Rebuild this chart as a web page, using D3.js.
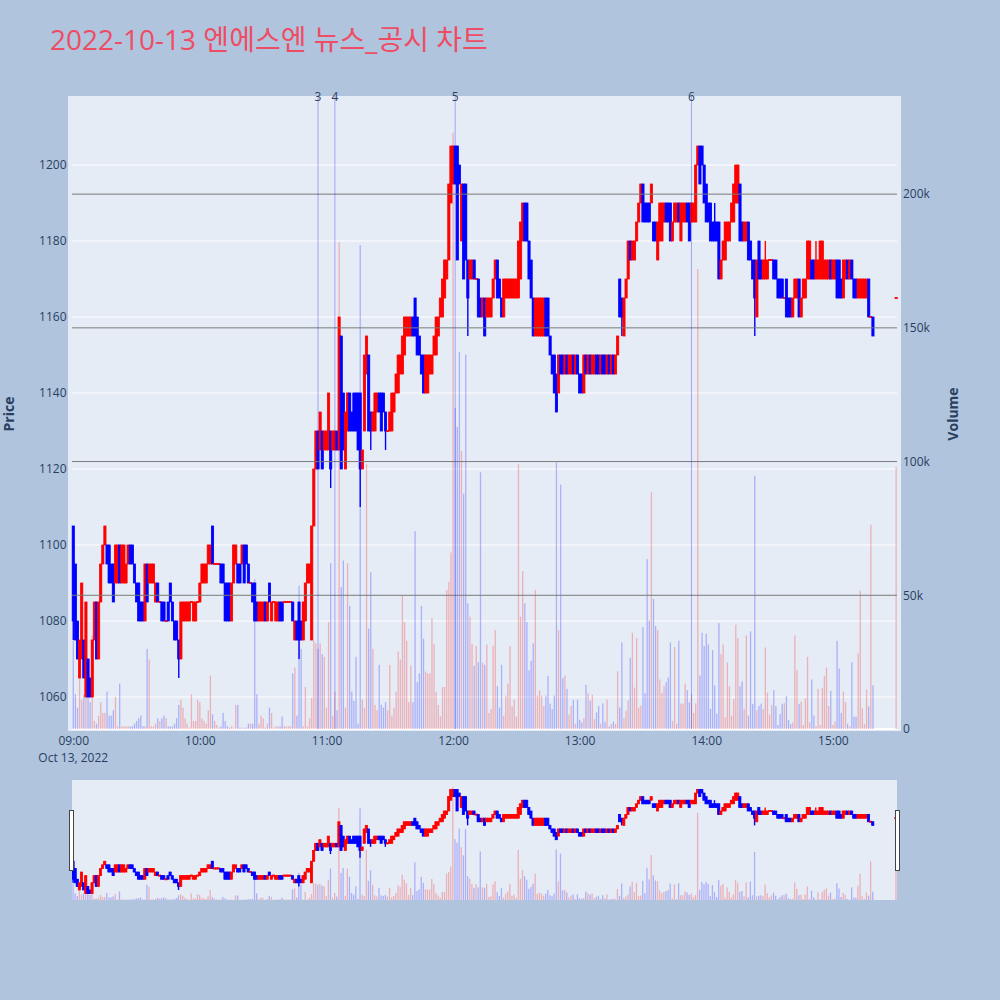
<!DOCTYPE html>
<html><head><meta charset="utf-8">
<script src="https://cdn.jsdelivr.net/npm/d3@7"></script>
<style>body{margin:0;background:#b0c4de;} svg{display:block}</style>
</head><body><svg id="c" width="1000" height="1000"></svg>
<script>
// ---- DATA (minute candles, 2022-10-13, 09:00 .. 15:19 plus 15:30 close) ----
const opens = [
1105,1095,1080,1065,1070,1075,1060,1070,1065,1060,
1075,1085,1070,1085,1095,1100,1100,1100,1095,1095,
1090,1090,1100,1090,1090,1090,1095,1100,1100,1095,
1090,1090,1085,1085,1080,1095,1090,1090,1090,1085,
1090,1085,1085,1085,1080,1085,1090,1085,1080,1080,
1075,1070,1080,1080,1080,1080,1085,1080,1080,1085,
1085,1090,1090,1090,1095,1095,1105,1095,1095,1095,
1095,1095,1090,1090,1090,1080,1090,1095,1095,1095,
1095,1100,1100,1095,1090,1090,1090,1085,1080,1080,
1080,1085,1080,1090,1080,1085,1080,1080,1085,1085,
1085,1085,1085,1085,1085,1075,1080,1085,1080,1075,
1080,1090,1090,1075,1105,1120,1130,1125,1130,1125,
1125,1125,1130,1125,1125,1130,1125,1155,1140,1120,
1130,1140,1135,1140,1140,1140,1140,1120,1130,1145,
1150,1135,1130,1130,1135,1140,1140,1140,1135,1130,
1130,1130,1135,1140,1140,1145,1145,1150,1155,1155,
1155,1160,1165,1160,1155,1150,1150,1140,1140,1145,
1145,1150,1150,1155,1160,1160,1165,1170,1175,1190,
1195,1205,1205,1200,1180,1195,1195,1175,1170,1170,
1175,1170,1170,1165,1160,1165,1160,1160,1160,1165,
1170,1175,1170,1165,1160,1165,1165,1165,1165,1165,
1165,1165,1170,1180,1190,1190,1180,1175,1165,1155,
1155,1155,1155,1155,1165,1165,1155,1150,1150,1145,
1140,1150,1150,1145,1150,1145,1145,1150,1145,1150,
1145,1145,1140,1150,1145,1150,1145,1145,1150,1150,
1145,1150,1150,1145,1150,1145,1150,1145,1150,1170,
1165,1155,1165,1170,1180,1175,1175,1180,1185,1190,
1195,1190,1190,1190,1190,1185,1185,1175,1180,1180,
1185,1190,1190,1190,1180,1185,1185,1190,1180,1185,
1185,1190,1190,1185,1185,1185,1200,1205,1205,1200,
1195,1190,1190,1185,1185,1185,1185,1170,1175,1175,
1180,1180,1185,1185,1190,1190,1195,1185,1180,1180,
1185,1180,1175,1175,1160,1180,1175,1170,1170,1170,
1175,1175,1175,1175,1170,1170,1170,1165,1170,1165,
1165,1160,1165,1165,1170,1160,1165,1165,1170,1170,
1175,1175,1170,1170,1170,1170,1170,1170,1170,1175,
1170,1170,1175,1175,1170,1165,1170,1175,1170,1175,
1170,1170,1165,1165,1165,1165,1165,1170,1160,1160,
1165];
const closes = [
1080,1075,1070,1075,1090,1065,1085,1060,1060,1075,
1085,1070,1085,1095,1100,1105,1095,1090,1090,1085,
1100,1100,1090,1100,1100,1095,1100,1095,1095,1090,
1085,1080,1080,1080,1095,1085,1095,1095,1095,1090,
1085,1085,1080,1080,1080,1080,1085,1080,1075,1075,
1070,1085,1085,1085,1085,1085,1085,1085,1085,1085,
1090,1095,1095,1095,1100,1100,1095,1095,1095,1095,
1090,1090,1080,1080,1080,1090,1100,1100,1090,1090,
1100,1090,1095,1090,1090,1085,1080,1080,1085,1085,
1085,1080,1085,1085,1085,1085,1085,1085,1080,1080,
1085,1085,1085,1085,1080,1080,1075,1075,1075,1085,
1090,1095,1095,1105,1120,1130,1120,1135,1120,1130,
1130,1140,1120,1130,1130,1125,1160,1120,1125,1135,
1140,1130,1130,1130,1130,1125,1120,1125,1150,1155,
1130,1130,1135,1140,1140,1135,1130,1135,1130,1130,
1135,1140,1140,1145,1150,1150,1155,1160,1160,1160,
1160,1155,1155,1150,1150,1145,1140,1150,1150,1150,
1150,1155,1160,1160,1165,1170,1175,1175,1195,1205,
1205,1195,1175,1195,1195,1170,1175,1165,1175,1175,
1170,1170,1160,1160,1165,1155,1165,1165,1165,1170,
1175,1165,1165,1160,1170,1170,1170,1170,1170,1170,
1170,1180,1185,1190,1180,1180,1170,1165,1155,1165,
1165,1165,1165,1165,1155,1155,1150,1145,1140,1135,
1150,1145,1145,1150,1145,1150,1150,1145,1150,1145,
1140,1140,1150,1145,1150,1145,1150,1150,1145,1145,
1150,1145,1145,1150,1145,1150,1145,1150,1155,1160,
1160,1165,1170,1180,1175,1180,1180,1185,1190,1195,
1185,1185,1185,1185,1195,1180,1180,1185,1190,1190,
1190,1185,1185,1180,1185,1190,1190,1185,1190,1190,
1190,1185,1180,1190,1190,1200,1205,1195,1200,1190,
1185,1185,1180,1180,1180,1180,1170,1175,1180,1185,
1185,1185,1190,1195,1200,1200,1180,1180,1185,1185,
1175,1175,1170,1165,1175,1170,1170,1175,1175,1175,
1175,1175,1170,1170,1165,1165,1165,1165,1160,1160,
1160,1165,1170,1170,1160,1165,1170,1170,1180,1180,
1170,1170,1175,1175,1180,1180,1175,1175,1175,1170,
1175,1175,1165,1165,1165,1175,1175,1170,1175,1170,
1165,1165,1170,1170,1170,1170,1170,1160,1160,1155,
1165];
// volume in thousands of shares
const volumesK = [
33,13,8,19,11,13,26,16,10,35,
3,2,5,10,6,6,14,5,5,7,
12,1,17,1,1,1,1,1,1,2,
3,4,5,1,1,30,26,1,1,2,
4,3,4,5,4,1,1,1,2,4,
9,11,8,4,2,0.5,13,3,3,11,
10,4,3,2,7,20,5.5,3,1.5,0.5,
1,6,3,1,0.5,1,0.5,9,9,0.5,
0.5,0.5,0.5,2,2,2,56,13,2,5,
4,0.5,2,8,6,0.5,1,1,1,4.7,
1,1,1,1,20.8,23,5,53.6,30,1,
15.7,1,4,11.6,33,32,30,32,28,27,
8,40,62,5,14,7,182,53,63,8,
62,46,14,10.5,27,2,181,11,8,99,
37.5,58.6,30,9,7,24,9,8,10,7,
24,5,8,14,29,26,50,40,33,10,
23.7,10,74,17.5,20.8,46,33.8,21.5,20.8,20.8,
41.5,31.7,13.9,9,4.7,15.7,15.7,52,55,66,
223,120,113,141,104,88,140,47,42,31.7,
23.7,31,25,96,24.8,24,31.6,6,7.5,31,
37,16,8,24,5,12.5,17,31,8.5,11,
4.6,99,42,59,47,40,22,25.5,32,52,
12.5,14.5,12.5,8.6,12.5,19.8,9.5,7.5,12.5,99.7,
37,91.4,19,20,15,5.4,8.6,11,2,11,
3.4,2.5,4,16.5,13.4,10.6,12.8,3.7,6.2,8.6,
2,9.6,2.7,11,0.9,1.9,2.7,1.9,21.6,8,
32.4,4,6.9,10.6,26.6,36,15.5,34,8,8.8,
38,13.4,63.5,40.6,88.5,48.6,38.5,37,18.5,13.5,
16,17.5,19.2,32.4,3,30.7,2,33,9.5,9.5,
17,14.6,10,13,6,9.6,172,20,36,31,
35.7,31.6,7.5,29.5,16.3,5.7,39.6,28,31.6,4.4,
24.8,16,5,11.2,39,34,16,17.8,7.5,35,
5,36.5,9.4,94.7,7,8.6,9.5,7.5,30.5,13.6,
5.4,9,14.5,8.6,1.5,5.6,9.4,9.7,12.3,3.4,
1.9,2.5,35,22,9.4,10.3,1.5,11.5,27,2.5,
18.5,5,1,15,1.5,15.4,19.8,23,8.6,14.3,
1.5,2.8,33,22.6,6,14,10,2,1,25,
4.6,4.6,28.3,51.7,7.7,1.9,14.8,8.4,76.4,16.3,
98];
// candles with wicks beyond their bodies (minute offset from 09:00)
const wickMinutes = [0,50,107,122,127,136,141,148,187,260,277,304,323,328,352];
const wickLows    = [1075,1065,1070,1115,1120,1110,1125,1125,1155,1155,1175,1180,1155,1170,1170];
const wickHighs   = [1105,1075,1085,1130,1155,1140,1135,1135,1175,1165,1185,1190,1175,1180,1180];
// news / disclosure markers
const newsLabels = ["3","4","5","6"];
const newsTimes  = ["10:56","11:04","12:01","13:53"];
const priceTicks = [1060,1080,1100,1120,1140,1160,1180,1200];
const volumeTicks = [0,50,100,150,200];
const timeTickLabels = ["09:00","10:00","11:00","12:00","13:00","14:00","15:00"];
const titleText = "2022-10-13 엔에스엔 뉴스_공시 차트";

// ---- BUILD ----
const base = new Date(2022, 9, 13, 9, 0);
const toTime = m => new Date(base.getTime() + m * 60000);
const parseHM = s => { const [h, mm] = s.split(":").map(Number); return new Date(2022, 9, 13, h, mm); };
const minuteIdx = d3.range(0, 380).concat([390]);
const data = minuteIdx.map((m, i) => {
  const o = opens[i], c = closes[i];
  const w = wickMinutes.indexOf(m);
  return {
    t: toTime(m), o, c, v: volumesK[i],
    h: Math.max(o, c, w >= 0 ? wickHighs[w] : -Infinity),
    l: Math.min(o, c, w >= 0 ? wickLows[w] : Infinity),
    up: c >= o
  };
});

const svg = d3.select("#c");
const FONT = "'Open Sans', verdana, arial, sans-serif";
const TXT = "#2a3f5f";
const RED = "#ff0000", BLUE = "#0000ff";
const VRED = "rgba(255,0,0,0.25)", VBLUE = "rgba(0,0,255,0.25)";

const P = {left: 68, right: 901, top: 96, bottom: 731};
const x = d3.scaleTime().domain([toTime(-2.5), toTime(392.3)]).range([P.left, P.right]);
const yP = d3.scaleLinear().domain([1051.05, 1218.16]).range([P.bottom, P.top]);
const yV = d3.scaleLinear().domain([0, 236.7]).range([729, P.top]);

// title
svg.append("text").attr("x", 50).attr("y", 50)
  .attr("font-family", FONT + ", 'Noto Sans CJK KR'")
  .attr("font-size", 28).attr("fill", "#ee4d64").text(titleText);

// plot background
svg.append("rect").attr("x", P.left).attr("y", P.top)
  .attr("width", P.right - P.left).attr("height", P.bottom - P.top).attr("fill", "#e5ecf6");

const defs = svg.append("defs");
defs.append("clipPath").attr("id", "mainClip").append("rect")
  .attr("x", P.left).attr("y", P.top).attr("width", P.right - P.left).attr("height", P.bottom - P.top);

// price gridlines (white)
svg.append("g").selectAll("line").data(priceTicks).join("line")
  .attr("x1", 72).attr("x2", 897)
  .attr("y1", d => yP(d)).attr("y2", d => yP(d))
  .attr("stroke", "#fff").attr("stroke-width", 1);

// volume zero line
svg.append("line").attr("x1", 72).attr("x2", 897)
  .attr("y1", yV(0)).attr("y2", yV(0)).attr("stroke", "#fff").attr("stroke-width", 2);

const main = svg.append("g").attr("clip-path", "url(#mainClip)");

// volume bars
main.append("g").selectAll("rect").data(data).join("rect")
  .attr("x", d => x(d.t) - 0.65).attr("width", 1.3)
  .attr("y", d => yV(d.v)).attr("height", d => yV(0) - yV(d.v))
  .attr("fill", d => d.up ? VRED : VBLUE);

// volume gridlines (gray)
svg.append("g").selectAll("line").data(volumeTicks.filter(d => d > 0)).join("line")
  .attr("x1", 72).attr("x2", 897)
  .attr("y1", d => yV(d)).attr("y2", d => yV(d))
  .attr("stroke", "#7a7a7a").attr("stroke-width", 1);

// news lines
const newsG = svg.append("g");
newsTimes.forEach((s, i) => {
  const xx = x(parseHM(s));
  newsG.append("line").attr("x1", xx).attr("x2", xx).attr("y1", P.top).attr("y2", 729)
    .attr("stroke", "rgba(0,0,255,0.3)").attr("stroke-width", 1);
  newsG.append("text").attr("x", xx).attr("y", 100.5).attr("text-anchor", "middle")
    .attr("font-family", FONT).attr("font-size", 12).attr("fill", TXT).text(newsLabels[i]);
});

// candles
function drawCandles(g, xs, ys, bw, sw) {
  const c = g.append("g").selectAll("g").data(data).join("g");
  c.append("line")
    .attr("x1", d => xs(d.t)).attr("x2", d => xs(d.t))
    .attr("y1", d => ys(d.h)).attr("y2", d => ys(d.l))
    .attr("stroke", d => d.up ? RED : BLUE).attr("stroke-width", 1.4);
  c.append("rect")
    .attr("x", d => xs(d.t) - bw / 2).attr("width", bw)
    .attr("y", d => ys(Math.max(d.o, d.c)) - (d.o === d.c ? 0.6 : 0))
    .attr("height", d => Math.max(1.2, ys(Math.min(d.o, d.c)) - ys(Math.max(d.o, d.c))))
    .attr("fill", d => d.up ? RED : BLUE)
    .attr("stroke", d => d.up ? RED : BLUE).attr("stroke-width", sw);
}
drawCandles(main, x, yP, 2.2, 0.8);

// axes
const axL = svg.append("g").attr("transform", `translate(${P.left},0)`)
  .call(d3.axisLeft(yP).tickValues(priceTicks).tickSize(0).tickPadding(1.5).tickFormat(d3.format("d")));
const axR = svg.append("g").attr("transform", `translate(${P.right},0)`)
  .call(d3.axisRight(yV).tickValues(volumeTicks).tickSize(0).tickPadding(2)
    .tickFormat(d => d === 0 ? "0" : d + "k"));
const axB = svg.append("g").attr("transform", `translate(0,${P.bottom})`)
  .call(d3.axisBottom(x).tickValues(timeTickLabels.map(parseHM)).tickSize(0).tickPadding(5)
    .tickFormat(d3.timeFormat("%H:%M")));
[axL, axR, axB].forEach(a => {
  a.select(".domain").remove();
  a.selectAll("text").attr("font-family", FONT).attr("font-size", 12).attr("fill", TXT);
});
svg.append("text").attr("x", x(parseHM("09:00"))).attr("y", 762)
  .attr("text-anchor", "middle").attr("font-family", FONT).attr("font-size", 12)
  .attr("fill", TXT).text("Oct 13, 2022");

// axis titles
svg.append("text").attr("transform", "translate(14,414) rotate(-90)")
  .attr("text-anchor", "middle").attr("font-family", FONT).attr("font-size", 14)
  .attr("font-weight", "bold").attr("fill", TXT).text("Price");
svg.append("text").attr("transform", "translate(958,414) rotate(-90)")
  .attr("text-anchor", "middle").attr("font-family", FONT).attr("font-size", 14)
  .attr("font-weight", "bold").attr("fill", TXT).text("Volume");

// ---- range slider ----
const S = {left: 72, right: 897, top: 780, bottom: 900};
svg.append("rect").attr("x", S.left).attr("y", S.top)
  .attr("width", S.right - S.left).attr("height", S.bottom - S.top).attr("fill", "#e5ecf6");
defs.append("clipPath").attr("id", "sliderClip").append("rect")
  .attr("x", S.left).attr("y", S.top).attr("width", S.right - S.left).attr("height", S.bottom - S.top);
const xs = d3.scaleTime().domain([toTime(-0.5), toTime(390.5)]).range([S.left, S.right]);
const yPs = d3.scaleLinear().domain(yP.domain()).range([S.bottom, S.top]);
const yVs = d3.scaleLinear().domain(yV.domain()).range([S.bottom, S.top]);
const sl = svg.append("g").attr("clip-path", "url(#sliderClip)");
sl.append("g").selectAll("rect").data(data).join("rect")
  .attr("x", d => xs(d.t) - 0.65).attr("width", 1.3)
  .attr("y", d => yVs(d.v)).attr("height", d => yVs(0) - yVs(d.v))
  .attr("fill", d => d.up ? VRED : VBLUE);
drawCandles(sl, xs, yPs, 2.2, 0.8);
[S.left - 2.5, S.right - 1.5].forEach(hx => {
  svg.append("rect").attr("x", hx).attr("y", 810.5).attr("width", 4).attr("height", 60)
    .attr("fill", "#fff").attr("stroke", "#444").attr("stroke-width", 1);
});
</script></body></html>
